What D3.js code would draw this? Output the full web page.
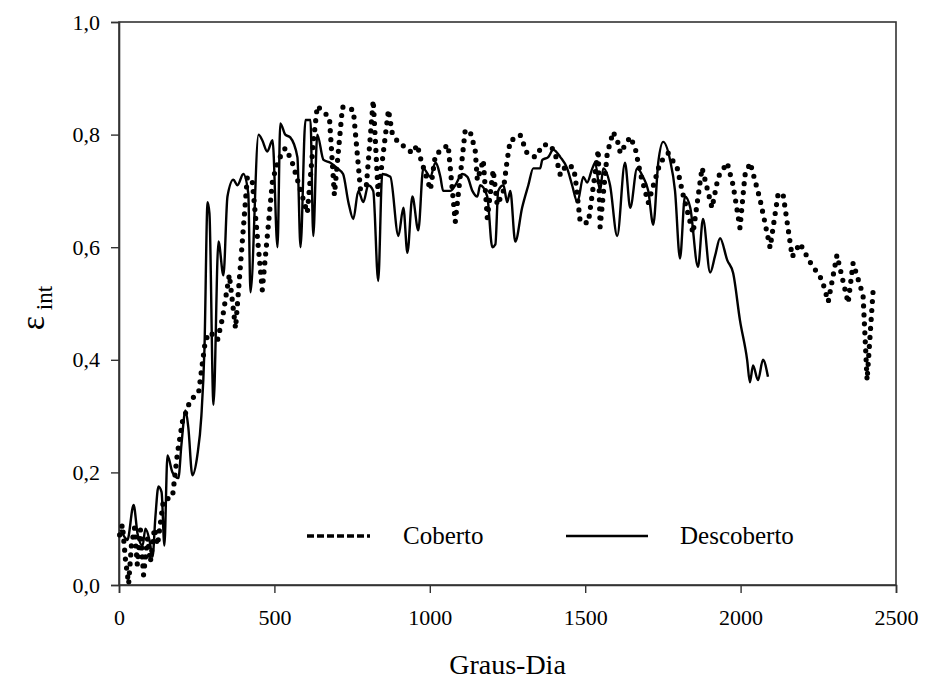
<!DOCTYPE html>
<html><head><meta charset="utf-8">
<script src="https://cdn.jsdelivr.net/npm/d3@7"></script>
<style>html,body{margin:0;padding:0;background:#fff}svg text{font-family:"Liberation Serif","Times New Roman",serif;fill:#000}</style>
</head><body>
<svg id="c" width="925" height="682"></svg>
<script>
// Graus-Dia values and ε int for "Descoberto" (solid)
const descobertoGD = [5,18,27,47,60,76,85,98,108,117,127,137,146,156,172,191,201,214,223,236,252,265,275,285,291,304,320,336,349,368,381,400,416,423,449,461,477,494,510,519,535,551,574,584,600,616,625,638,658,680,703,721,738,754,770,786,802,818,834,847,873,899,915,928,944,963,979,1002,1018,1034,1043,1066,1082,1104,1121,1137,1153,1162,1185,1201,1211,1220,1237,1249,1259,1275,1297,1317,1333,1355,1362,1381,1397,1420,1442,1458,1475,1494,1506,1523,1532,1548,1558,1580,1603,1628,1645,1667,1686,1703,1719,1735,1751,1773,1789,1805,1821,1838,1863,1879,1902,1918,1934,1957,1976,1998,2021,2030,2040,2056,2072,2088];
const descobertoVal = [0.098,0.085,0.08,0.142,0.09,0.07,0.10,0.08,0.05,0.12,0.175,0.165,0.07,0.23,0.2,0.19,0.25,0.31,0.28,0.195,0.23,0.30,0.42,0.68,0.66,0.32,0.61,0.55,0.69,0.72,0.71,0.73,0.695,0.52,0.80,0.79,0.77,0.79,0.60,0.82,0.80,0.795,0.76,0.60,0.826,0.826,0.62,0.80,0.755,0.75,0.74,0.73,0.68,0.65,0.70,0.68,0.71,0.70,0.54,0.73,0.725,0.62,0.67,0.59,0.69,0.63,0.74,0.725,0.75,0.725,0.70,0.70,0.71,0.73,0.725,0.70,0.69,0.71,0.69,0.60,0.605,0.70,0.71,0.68,0.70,0.61,0.67,0.71,0.74,0.74,0.755,0.76,0.773,0.76,0.74,0.71,0.68,0.725,0.715,0.74,0.75,0.70,0.74,0.71,0.62,0.75,0.67,0.74,0.725,0.70,0.64,0.75,0.787,0.755,0.70,0.58,0.69,0.67,0.565,0.65,0.555,0.585,0.616,0.577,0.554,0.47,0.40,0.36,0.39,0.364,0.40,0.37];
// Graus-Dia values and ε int for "Coberto" (dotted)
const cobertoGD = [2,11,21,31,40,50,59,69,79,92,101,114,124,143,172,188,204,230,256,278,294,317,333,355,375,413,429,461,494,513,535,555,606,626,638,658,677,693,719,754,777,796,818,834,867,879,899,921,944,960,969,1002,1018,1059,1082,1114,1130,1146,1153,1172,1185,1204,1217,1236,1249,1259,1281,1291,1313,1339,1365,1387,1403,1420,1439,1461,1468,1484,1510,1542,1548,1571,1580,1590,1606,1613,1629,1645,1661,1677,1703,1741,1767,1796,1815,1847,1876,1908,1928,1957,1976,1998,2014,2031,2063,2095,2121,2137,2166,2191,2223,2262,2282,2310,2346,2362,2394,2407,2426];
const cobertoVal = [0.089,0.107,0.044,0.002,0.071,0.101,0.036,0.098,0.018,0.083,0.041,0.101,0.071,0.151,0.156,0.234,0.29,0.329,0.341,0.435,0.449,0.435,0.474,0.551,0.456,0.725,0.716,0.524,0.719,0.755,0.776,0.755,0.661,0.79,0.851,0.84,0.831,0.693,0.849,0.844,0.702,0.71,0.861,0.693,0.844,0.803,0.785,0.778,0.767,0.782,0.76,0.702,0.764,0.782,0.645,0.808,0.805,0.773,0.719,0.755,0.652,0.737,0.675,0.698,0.755,0.79,0.794,0.799,0.767,0.76,0.782,0.782,0.767,0.728,0.746,0.742,0.725,0.645,0.643,0.773,0.636,0.767,0.785,0.805,0.785,0.767,0.782,0.796,0.776,0.732,0.679,0.75,0.767,0.741,0.693,0.625,0.741,0.67,0.725,0.75,0.71,0.634,0.728,0.75,0.684,0.599,0.696,0.693,0.583,0.607,0.574,0.542,0.503,0.586,0.501,0.572,0.515,0.364,0.52];
const xTicks = [0,500,1000,1500,2000,2500];
const yTicks = [0,0.2,0.4,0.6,0.8,1.0];
const seriesNames = ["Coberto","Descoberto"];
const xTitle = "Graus-Dia";

const svg = d3.select("#c");
const L = 119, R = 896, T = 22, B = 585;
const x = d3.scaleLinear().domain([0,2500]).range([L,R]);
const y = d3.scaleLinear().domain([0,1]).range([B,T]);
const fmt = d => d3.format(".1f")(d).replace(".", ",");

// frame
svg.append("rect").attr("x",L).attr("y",T).attr("width",R-L).attr("height",B-T)
  .attr("fill","none").attr("stroke","#333").attr("stroke-width",1.6);

const xa = svg.append("g").attr("transform",`translate(0,${B})`)
  .call(d3.axisBottom(x).tickValues(xTicks).tickSize(8).tickPadding(16).tickFormat(d3.format("d")));
const ya = svg.append("g").attr("transform",`translate(${L},0)`)
  .call(d3.axisLeft(y).tickValues(yTicks).tickSize(8).tickPadding(11).tickFormat(fmt));
[xa,ya].forEach(g=>{
  g.select(".domain").attr("stroke","#333").attr("stroke-width",1.6);
  g.selectAll(".tick line").attr("stroke","#333").attr("stroke-width",1.4);
  g.selectAll("text").attr("font-size",22).attr("font-family","Liberation Serif").attr("fill","#000");
});

const dData = descobertoGD.map((g,i)=>[g,descobertoVal[i]]);
const cData = cobertoGD.map((g,i)=>[g,cobertoVal[i]]);
const line = d3.line().x(d=>x(d[0])).y(d=>y(d[1]));

svg.append("path").attr("d",line.curve(d3.curveMonotoneX)(dData))
  .attr("fill","none").attr("stroke","#000").attr("stroke-width",2.4).attr("stroke-linejoin","round");
svg.append("path").attr("d",d3.line().x(d=>x(d[0])).y(d=>y(d[1]))(cData))
  .attr("fill","none").attr("stroke","#000").attr("stroke-width",5.2)
  .attr("stroke-linecap","round").attr("stroke-dasharray","0,9");

// legend
const ly = y(0.087);
svg.append("line").attr("x1",307).attr("x2",370).attr("y1",ly).attr("y2",ly)
  .attr("stroke","#000").attr("stroke-width",3.5).attr("stroke-dasharray","7,3");
svg.append("text").attr("x",403).attr("y",ly+8).attr("font-size",25).text(seriesNames[0]);
svg.append("line").attr("x1",566).attr("x2",648).attr("y1",ly).attr("y2",ly)
  .attr("stroke","#000").attr("stroke-width",2.5);
svg.append("text").attr("x",680).attr("y",ly+8).attr("font-size",25).text(seriesNames[1]);

// axis titles
svg.append("text").attr("x",(L+R)/2).attr("y",674).attr("text-anchor","middle")
  .attr("font-size",28).text(xTitle);
const yt = svg.append("text").attr("transform","translate(44,308) rotate(-90)").attr("text-anchor","middle");
yt.append("tspan").attr("font-size",34).text("ε");
yt.append("tspan").attr("font-size",23).attr("dy",8).text(" int");
</script>
</body></html>
